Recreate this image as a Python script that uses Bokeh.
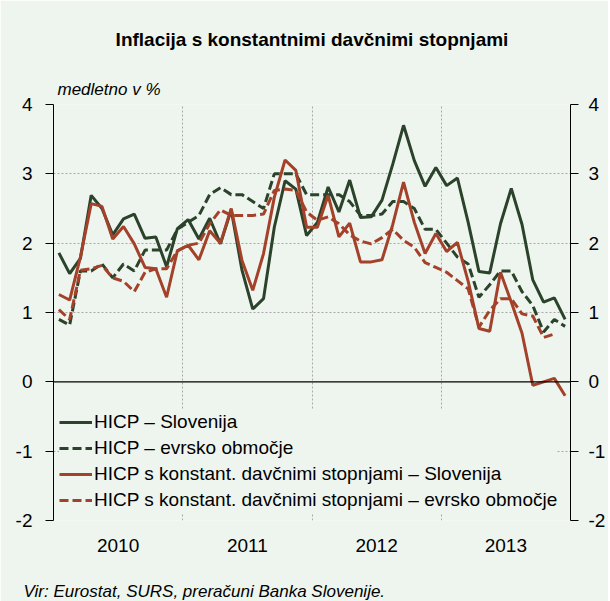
import numpy as np
from bokeh.plotting import figure
from bokeh.models import Range1d, LinearAxis, FixedTicker, Span, Title, Legend, LegendItem
from bokeh.embed import file_html
from bokeh.resources import INLINE

# ---------------- data (monthly, Jan 2010 - Dec 2013), year-on-year in % ----------------
years = ["2010", "2011", "2012", "2013"]
months_per_year = 12

hicp_si = [1.86, 1.56, 1.78, 2.69, 2.50, 2.12, 2.35, 2.42, 2.07, 2.09, 1.66, 2.21,
           2.34, 2.06, 2.36, 1.99, 2.48, 1.61, 1.05, 1.20, 2.23, 2.90, 2.78, 2.11,
           2.30, 2.81, 2.45, 2.91, 2.37, 2.38, 2.62, 3.14, 3.70, 3.19, 2.82, 3.09,
           2.83, 2.94, 2.30, 1.59, 1.57, 2.28, 2.79, 2.27, 1.47, 1.15, 1.21, 0.90]

hicp_ea = [0.90, 0.82, 1.60, 1.60, 1.70, 1.50, 1.70, 1.60, 1.90, 1.90, 1.90, 2.20,
           2.30, 2.40, 2.70, 2.80, 2.70, 2.70, 2.60, 2.50, 3.00, 3.00, 3.00, 2.70,
           2.70, 2.70, 2.70, 2.60, 2.40, 2.40, 2.42, 2.60, 2.60, 2.50, 2.20, 2.20,
           2.00, 1.80, 1.70, 1.22, 1.40, 1.60, 1.60, 1.30, 1.10, 0.72, 0.90, 0.80]

hicp_ct_si = [1.26, 1.18, 1.80, 2.57, 2.53, 2.06, 2.24, 1.99, 1.65, 1.63, 1.22, 1.89,
              1.97, 1.76, 2.18, 2.00, 2.50, 1.75, 1.32, 1.85, 2.66, 3.20, 3.05, 2.23,
              2.23, 2.69, 2.09, 2.29, 1.73, 1.73, 1.76, 2.27, 2.88, 2.30, 1.85, 2.14,
              1.88, 2.01, 1.45, 0.77, 0.73, 1.58, 1.15, 0.70, -0.05, 0.00, 0.05, -0.20]

hicp_ct_ea = [1.04, 0.90, 1.61, 1.63, 1.68, 1.50, 1.45, 1.30, 1.58, 1.63, 1.63, 1.89,
              1.97, 2.00, 2.28, 2.48, 2.40, 2.40, 2.40, 2.42, 2.76, 2.78, 2.76, 2.45,
              2.33, 2.38, 2.28, 2.12, 2.03, 1.99, 2.08, 2.20, 2.04, 1.94, 1.72, 1.65,
              1.58, 1.46, 1.34, 0.79, 1.03, 1.20, 1.20, 0.98, 0.95, 0.64, 0.69, np.nan]

series_labels = ["HICP – Slovenija",
                 "HICP – evrsko območje",
                 "HICP s konstant. davčnimi stopnjami – Slovenija",
                 "HICP s konstant. davčnimi stopnjami – evrsko območje"]

y_ticks = [-2, -1, 0, 1, 2, 3, 4]
y_tick_labels = ["-2", "-1", "0", "1", "2", "3", "4"]

title_text = "Inflacija s konstantnimi davčnimi stopnjami"
unit_text = "medletno v %"
source_text = "Vir: Eurostat, SURS, preračuni Banka Slovenije."

# ---------------- styling ----------------
BG = "#EEF5EE"
GREEN = "#2B422B"
RED = "#A4412A"
GRIDC = "#A8A8A8"
FONT = "Liberation Sans"

n = len(hicp_si)
x = np.arange(n) + 0.5

p = figure(width=608, height=601, output_backend="svg", toolbar_location=None, title=None,
           x_range=Range1d(0, n), y_range=Range1d(min(y_ticks), max(y_ticks)),
           min_border_left=53, min_border_right=36, min_border_top=104, min_border_bottom=81,
           background_fill_color=BG, border_fill_color=BG, outline_line_color=None)

ylab = dict(zip(y_ticks, y_tick_labels))

def style_y(axis, standoff):
    axis.ticker = FixedTicker(ticks=y_ticks)
    axis.major_label_overrides = ylab
    axis.axis_line_color = "black"
    axis.axis_line_width = 1
    axis.major_tick_out = 8
    axis.major_tick_in = 0
    axis.minor_tick_line_color = None
    axis.major_tick_line_color = "black"
    axis.major_label_standoff = standoff
    axis.major_label_text_font = FONT
    axis.major_label_text_font_size = "19px"
    axis.major_label_text_color = "black"

style_y(p.yaxis[0], 13)
rax = LinearAxis()
style_y(rax, 10)
p.add_layout(rax, "right")

# x axis: year labels centred in each year
xa = p.xaxis[0]
year_centres = [months_per_year * k + months_per_year / 2 for k in range(len(years))]
xa.ticker = FixedTicker(ticks=year_centres)
xa.major_label_overrides = {c: yl for c, yl in zip(year_centres, years)}
xa.axis_line_color = None
xa.major_tick_line_color = None
xa.minor_tick_line_color = None
xa.major_tick_out = 0
xa.major_label_standoff = 18
xa.major_label_text_font = FONT
xa.major_label_text_font_size = "19px"
xa.major_label_text_color = "black"

# grids
p.xgrid.ticker = FixedTicker(ticks=[months_per_year * k for k in range(1, len(years))])
p.xgrid.grid_line_color = GRIDC
p.xgrid.grid_line_dash = "2 2"
p.xgrid.grid_line_width = 1
p.ygrid.ticker = FixedTicker(ticks=[t for t in y_ticks if t != 0])
p.ygrid.grid_line_color = GRIDC
p.ygrid.grid_line_dash = "2 2"
p.ygrid.grid_line_width = 1

p.add_layout(Span(location=0, dimension="width", line_color="black", line_width=1.3))

# series
r1 = p.line(x, hicp_si, line_color=GREEN, line_width=3)
r2 = p.line(x, hicp_ea, line_color=GREEN, line_width=3, line_dash="9 4")
r3 = p.line(x, hicp_ct_si, line_color=RED, line_width=3)
r4 = p.line(x, hicp_ct_ea, line_color=RED, line_width=3, line_dash="9 4")

legend = Legend(items=[LegendItem(label=lab, renderers=[r]) for lab, r in
                       zip(series_labels, [r1, r2, r3, r4])],
                location=(6, 7), orientation="vertical")
legend.background_fill_color = BG
legend.background_fill_alpha = 1
legend.border_line_color = None
legend.label_text_font = FONT
legend.label_text_font_size = "19px"
legend.label_text_color = "black"
legend.glyph_width = 33
legend.glyph_height = 26
legend.label_height = 26
legend.label_standoff = 2
legend.spacing = 0
legend.padding = 5
legend.margin = 0
p.add_layout(legend)

# texts around the frame
p.add_layout(Title(text=unit_text, align="left", offset=4, standoff=11,
                   text_font=FONT, text_font_style="italic", text_font_size="17px",
                   text_color="black"), "above")
p.add_layout(Title(text=title_text, align="center", standoff=46,
                   text_font=FONT, text_font_style="bold", text_font_size="19px",
                   text_color="black"), "above")
# blank spacer between year labels and source line
p.add_layout(Title(text=" ", align="left", standoff=3,
                   text_font=FONT, text_font_size="17px"), "below")
p.add_layout(Title(text=source_text, align="left", offset=-30, standoff=2,
                   text_font=FONT, text_font_style="italic", text_font_size="17px",
                   text_color="black"), "below")

open("out.html", "w").write(file_html(p, INLINE))
